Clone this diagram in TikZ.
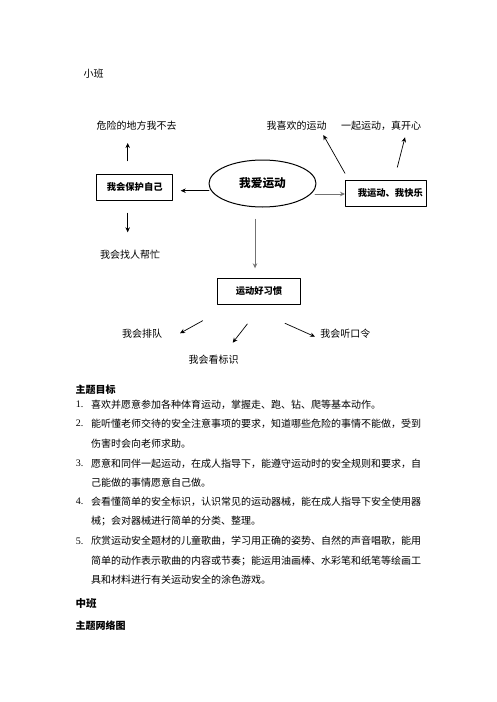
\documentclass[tikz,border=0pt]{standalone}
\usepackage{fontspec}
\setmainfont{Liberation Serif}
\newfontfamily\cjk{Noto Sans CJK SC}
\usetikzlibrary{shapes.geometric,positioning,arrows.meta}

\begin{document}
\begin{tikzpicture}[x=1pt, y=-1pt, line join=round, line cap=round, >={Stealth[length=5pt,width=4.5pt]}, line width=0.7pt]
				\tikzset{every node/.style={font=\cjk\fontsize{10}{12}\selectfont, inner sep=0pt},
				  boxnode/.style={draw, line width=0.8pt, minimum height=26pt, font=\cjk\bfseries\fontsize{9.3}{11}\selectfont},
				  itemline/.style={anchor=west},
				  itemnum/.style={anchor=west, font=\rmfamily\fontsize{10}{12}\selectfont},
				  headnode/.style={anchor=west, font=\cjk\bfseries\fontsize{10}{12}\selectfont},
				  grayarrow/.style={->, draw=black!55, line width=1pt}}
				\useasboundingbox (0,0) rectangle (496,702);
				% diagram
				\node (small) at (93.5,74) {小班};
				\node[ellipse, draw, line width=1pt, minimum width=107pt, minimum height=47pt,
				  font=\cjk\bfseries\fontsize{11.7}{13}\selectfont] (love) at (262.5,183.5) {我爱运动};
				\node[boxnode, minimum width=76pt] (protect) at (134.7,187) {我会保护自己};
				\node[boxnode, minimum width=81pt] (happy) at (386.3,193) {\hspace*{8pt}我运动、我快乐};
				\node[boxnode, minimum width=83pt] (habit) at (259,291.3) {运动好习惯};
				\node (danger) at (136.7,126) {危险的地方我不去};
				\node (like) at (296.7,126) {我喜欢的运动};
				\node (together) at (381.2,126) {一起运动，真开心};
				\node (help) at (130,255) {我会找人帮忙};
				\node (queue) at (142,333.3) {我会排队};
				\node (sign) at (213.5,360) {我会看标识};
				\node (listen) at (345.3,333.3) {我会听口令};
				% arrow ends
				\coordinate (protectUp) at (127.7,160.7);   \coordinate (dangerLow) at (127.7,143);
				\coordinate (loveLeft) at (209,190.7);      \coordinate (protectRight) at (180.7,190.7);
				\coordinate (loveRight) at (315,194);       \coordinate (happyLeft) at (345,194);
				\coordinate (happyUpA) at (345,173.3);      \coordinate (likeLow) at (323.3,135);
				\coordinate (happyUpB) at (397.3,167.3);    \coordinate (togetherLow) at (405,137.3);
				\coordinate (protectLow) at (127.7,213.3);  \coordinate (helpUp) at (127.7,232.3);
				\coordinate (loveLow) at (255,219.3);       \coordinate (habitUp) at (255,268.3);
				\coordinate (habitLowA) at (202.7,320.7);   \coordinate (queueUp) at (180,333.3);
				\coordinate (habitLowB) at (247.3,324);     \coordinate (signUp) at (232.7,342.7);
				\coordinate (habitLowC) at (285,323.3);     \coordinate (listenLeft) at (315,336.7);
				\draw[->] (protectUp) -- (dangerLow);
				\draw[->] (loveLeft) -- (protectRight);
				\draw[grayarrow] (loveRight) -- (happyLeft);
				\draw[->] (happyUpA) -- (likeLow);
				\draw[->] (happyUpB) -- (togetherLow);
				\draw[->] (protectLow) -- (helpUp);
				\draw[grayarrow] (loveLow) -- (habitUp);
				\draw[->] (habitLowA) -- (queueUp);
				\draw[->] (habitLowB) -- (signUp);
				\draw[->] (habitLowC) -- (listenLeft);
				% goals
				\node[headnode] (goals) at (75.3,389.3) {主题目标};
				\node[itemnum] (n1) at (75.5,404.3) {1.};
				\node[itemline] (l1) at (90.7,404.3) {喜欢并愿意参加各种体育运动，掌握走、跑、钻、爬等基本动作。};
				\node[itemnum] (n2) at (75.5,423.7) {2.};
				\node[itemline] (l2) at (90.7,423.7) {能听懂老师交待的安全注意事项的要求，知道哪些危险的事情不能做，受到};
				\node[itemline] (l2b) at (90.7,443.3) {伤害时会向老师求助。};
				\node[itemnum] (n3) at (75.5,463.3) {3.};
				\node[itemline] (l3) at (90.7,463.3) {愿意和同伴一起运动，在成人指导下，能遵守运动时的安全规则和要求，自};
				\node[itemline] (l3b) at (90.7,482.3) {己能做的事情愿意自己做。};
				\node[itemnum] (n4) at (75.5,501.7) {4.};
				\node[itemline] (l4) at (90.7,501.7) {会看懂简单的安全标识，认识常见的运动器械，能在成人指导下安全使用器};
				\node[itemline] (l4b) at (90.7,521) {械；会对器械进行简单的分类、整理。};
				\node[itemnum] (n5) at (75.5,541) {5.};
				\node[itemline] (l5) at (90.7,541) {欣赏运动安全题材的儿童歌曲，学习用正确的姿势、自然的声音唱歌，能用};
				\node[itemline] (l5b) at (90.7,560.7) {简单的动作表示歌曲的内容或节奏；能运用油画棒、水彩笔和纸笔等绘画工};
				\node[itemline] (l5c) at (90.7,580) {具和材料进行有关运动安全的涂色游戏。};
				\node[headnode, font=\cjk\bfseries\fontsize{10.5}{12}\selectfont] (middle) at (75.3,603.3) {中班};
				\node[headnode] (web) at (75.3,625.7) {主题网络图};
\end{tikzpicture}
\end{document}
